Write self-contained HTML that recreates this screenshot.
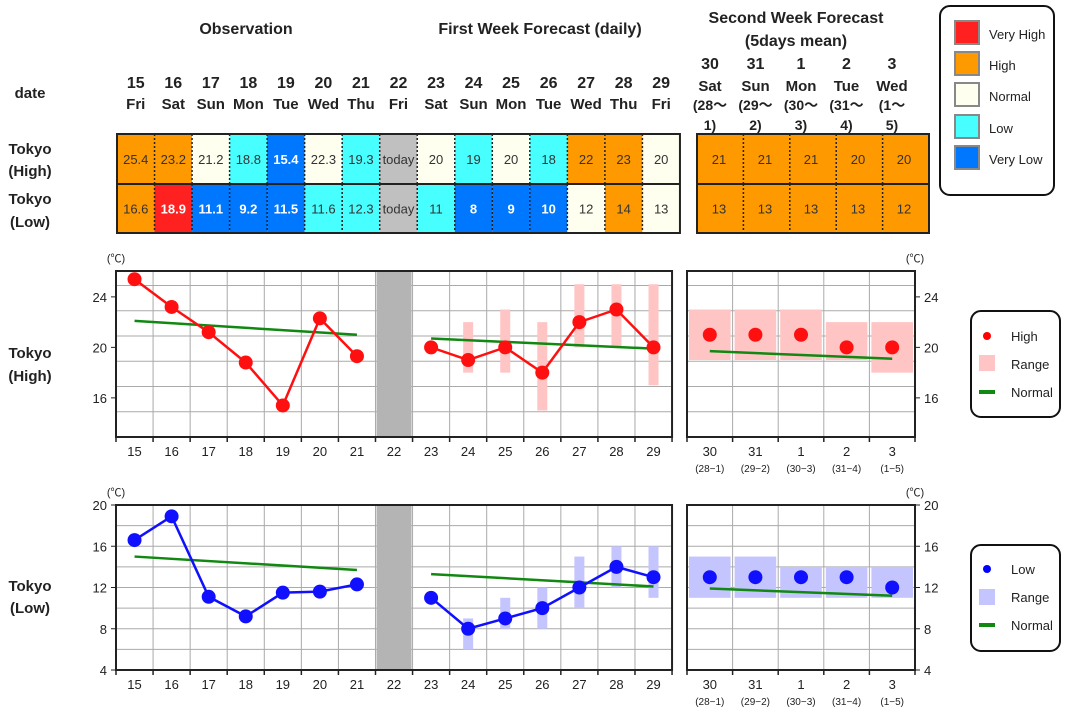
<!DOCTYPE html>
<html><head><meta charset="utf-8"><style>
html,body{margin:0;padding:0;background:#fff;}
svg{display:block;font-family:"Liberation Sans","Noto Sans CJK JP",sans-serif;}
</style></head><body>
<svg id="s" width="1071" height="711" viewBox="0 0 1071 711" xmlns="http://www.w3.org/2000/svg">
<g font-weight="bold" fill="#222" text-anchor="middle">
<text x="246" y="34" font-size="16">Observation</text>
<text x="540" y="34" font-size="16">First Week Forecast (daily)</text>
<text x="796" y="23" font-size="16">Second Week Forecast</text>
<text x="796" y="46" font-size="16">(5days mean)</text>
<text x="30" y="98" font-size="15">date</text>
<text x="30" y="154" font-size="15">Tokyo</text><text x="30" y="176" font-size="15">(High)</text>
<text x="30" y="204" font-size="15">Tokyo</text><text x="30" y="227" font-size="15">(Low)</text>
<text x="30" y="358" font-size="15">Tokyo</text><text x="30" y="381" font-size="15">(High)</text>
<text x="30" y="591" font-size="15">Tokyo</text><text x="30" y="613" font-size="15">(Low)</text>
</g>
<g id="hdr" font-weight="bold" fill="#222" text-anchor="middle" font-size="15"></g>
<g id="tbl"></g>
<g id="c1"></g>
<g id="c2"></g>
<rect x="940" y="6" width="114" height="189" rx="10" fill="#fff" stroke="#111" stroke-width="2"/>
<g stroke="#888" stroke-width="2" font-size="13" fill="#222">
<rect x="955" y="21" width="24" height="23" fill="#FF2020"/>
<rect x="955" y="52" width="24" height="23" fill="#FF9900"/>
<rect x="955" y="83" width="24" height="23" fill="#FFFFF0"/>
<rect x="955" y="115" width="24" height="23" fill="#47FFFF"/>
<rect x="955" y="146" width="24" height="23" fill="#0077FF"/>
</g>
<g font-size="13" fill="#222">
<text x="989" y="39">Very High</text><text x="989" y="70">High</text><text x="989" y="101">Normal</text><text x="989" y="133">Low</text><text x="989" y="164">Very Low</text>
</g>
<rect x="971" y="311" width="89" height="106" rx="10" fill="#fff" stroke="#111" stroke-width="2"/>
<circle cx="987" cy="336" r="4" fill="#f00"/><rect x="979" y="355" width="16" height="16" fill="#FFC4C4"/><rect x="979" y="390" width="16" height="4" fill="#118811"/>
<g font-size="13" fill="#222"><text x="1011" y="341">High</text><text x="1011" y="369">Range</text><text x="1011" y="397">Normal</text></g>
<rect x="971" y="545" width="89" height="106" rx="10" fill="#fff" stroke="#111" stroke-width="2"/>
<circle cx="987" cy="569" r="4" fill="#00f"/><rect x="979" y="589" width="16" height="16" fill="#C4C4FF"/><rect x="979" y="623" width="16" height="4" fill="#118811"/>
<g font-size="13" fill="#222"><text x="1011" y="574">Low</text><text x="1011" y="602">Range</text><text x="1011" y="630">Normal</text></g>
</svg>
<script>
const NS="http://www.w3.org/2000/svg";
function el(p,t,a,txt){const e=document.createElementNS(NS,t);for(const k in a)e.setAttribute(k,a[k]);if(txt!=null)e.textContent=txt;document.getElementById(p).appendChild(e);return e;}
const days=[15,16,17,18,19,20,21,22,23,24,25,26,27,28,29];
const dn=["Fri","Sat","Sun","Mon","Tue","Wed","Thu","Fri","Sat","Sun","Mon","Tue","Wed","Thu","Fri"];
const TW=37.53,TL=117;
days.forEach((d,i)=>{const x=TL+TW*(i+.5);el("hdr","text",{x:x,y:88,"font-size":16},d);el("hdr","text",{x:x,y:109},dn[i]);});
const w2=[30,31,1,2,3],w2n=["Sat","Sun","Mon","Tue","Wed"],w2a=["(28〜","(29〜","(30〜","(31〜","(1〜"],w2b=["1)","2)","3)","4)","5)"];
w2.forEach((d,i)=>{const x=710+45.5*i;el("hdr","text",{x:x,y:69,"font-size":16},d);el("hdr","text",{x:x,y:91},w2n[i]);el("hdr","text",{x:x,y:110,"font-size":14},w2a[i]);el("hdr","text",{x:x,y:130,"font-size":14},w2b[i]);});
const C={O:"#FF9900",R:"#FF2020",N:"#FFFFF0",C:"#47FFFF",B:"#0077FF",G:"#C0C0C0"};
const r1=[["25.4","O"],["23.2","O"],["21.2","N"],["18.8","C"],["15.4","B"],["22.3","N"],["19.3","C"],["today","G"],["20","N"],["19","C"],["20","N"],["18","C"],["22","O"],["23","O"],["20","N"]];
const r2=[["16.6","O"],["18.9","R"],["11.1","B"],["9.2","B"],["11.5","B"],["11.6","C"],["12.3","C"],["today","G"],["11","C"],["8","B"],["9","B"],["10","B"],["12","N"],["14","O"],["13","N"]];
function row(arr,y,h,L,W,tx){arr.forEach((c,i)=>{const x=L+W*i;el("tbl","rect",{x:x,y:y,width:W,height:h,fill:C[c[1]]});const bold=(c[1]=="B"||c[1]=="R");el("tbl","text",{x:(tx?tx[i]:x+W/2),y:y+h/2+5,"text-anchor":"middle","font-size":13,fill:bold?"#fff":"#333","font-weight":bold?"bold":"normal"},c[0]);});
for(let i=1;i<arr.length;i++){const x=L+W*i;el("tbl","line",{x1:x,x2:x,y1:y,y2:y+h,stroke:"#222","stroke-width":1.5,"stroke-dasharray":"2,2"});}}
row(r1,134,50,TL,TW);row(r2,184,49,TL,TW);
el("tbl","rect",{x:TL,y:134,width:TW*15,height:99,fill:"none",stroke:"#222","stroke-width":2});
el("tbl","line",{x1:TL,x2:TL+TW*15,y1:184,y2:184,stroke:"#222","stroke-width":2});
const tx=[719,765,811,858,904];
row([["21","O"],["21","O"],["21","O"],["20","O"],["20","O"]],134,50,697,46.4,tx);
row([["13","O"],["13","O"],["13","O"],["13","O"],["12","O"]],184,49,697,46.4,tx);
el("tbl","rect",{x:697,y:134,width:232,height:99,fill:"none",stroke:"#222","stroke-width":2});
el("tbl","line",{x1:697,x2:929,y1:184,y2:184,stroke:"#222","stroke-width":2});
const L=116,W=37.07,RL=687,RW=45.6;
function chart(g,top,bot,vmin,vmax,ticks,col,rc,obs,obsN,fc,fr,fN,w,wr,wN){
 const Y=v=>bot-(v-vmin)*(bot-top)/(vmax-vmin);
 const R=L+W*15,RR=RL+RW*5;
 for(let v=vmin+2;v<vmax;v+=2){el(g,"line",{x1:L,x2:R,y1:Y(v),y2:Y(v),stroke:"#aaa","stroke-width":1});el(g,"line",{x1:RL,x2:RR,y1:Y(v),y2:Y(v),stroke:"#aaa","stroke-width":1});}
 for(let i=1;i<15;i++){el(g,"line",{x1:L+W*i,x2:L+W*i,y1:top,y2:bot,stroke:"#aaa"});}
 for(let i=1;i<5;i++){el(g,"line",{x1:RL+RW*i,x2:RL+RW*i,y1:top,y2:bot,stroke:"#aaa"});}
 el(g,"rect",{x:L+W*7+1,y:top,width:W-2,height:bot-top,fill:"#B4B4B4"});
 fr.forEach((r,i)=>{if(r){const x=L+W*(i+8.5);el(g,"rect",{x:x-5,y:Y(r[1]),width:10,height:Y(r[0])-Y(r[1]),fill:rc});}});
 wr.forEach((r,i)=>{const x=RL+RW*i+2;el(g,"rect",{x:x,y:Y(r[1]),width:RW-4,height:Y(r[0])-Y(r[1]),fill:rc});});
 el(g,"line",{x1:L+W*.5,x2:L+W*6.5,y1:Y(obsN[0]),y2:Y(obsN[1]),stroke:"#118811","stroke-width":2.5});
 el(g,"line",{x1:L+W*8.5,x2:L+W*14.5,y1:Y(fN[0]),y2:Y(fN[1]),stroke:"#118811","stroke-width":2.5});
 el(g,"line",{x1:RL+RW*.5,x2:RL+RW*4.5,y1:Y(wN[0]),y2:Y(wN[1]),stroke:"#118811","stroke-width":2.5});
 const p1=obs.map((v,i)=>(L+W*(i+.5))+","+Y(v)).join(" ");
 el(g,"polyline",{points:p1,fill:"none",stroke:col,"stroke-width":2.5});
 obs.forEach((v,i)=>el(g,"circle",{cx:L+W*(i+.5),cy:Y(v),r:7,fill:col}));
 const p2=fc.map((v,i)=>(L+W*(i+8.5))+","+Y(v)).join(" ");
 el(g,"polyline",{points:p2,fill:"none",stroke:col,"stroke-width":2.5});
 fc.forEach((v,i)=>el(g,"circle",{cx:L+W*(i+8.5),cy:Y(v),r:7,fill:col}));
 w.forEach((v,i)=>el(g,"circle",{cx:RL+RW*(i+.5),cy:Y(v),r:7,fill:col}));
 el(g,"rect",{x:L,y:top,width:R-L,height:bot-top,fill:"none",stroke:"#222","stroke-width":2});
 el(g,"rect",{x:RL,y:top,width:RR-RL,height:bot-top,fill:"none",stroke:"#222","stroke-width":2});
 for(let i=0;i<=15;i++)el(g,"line",{x1:L+W*i,x2:L+W*i,y1:bot,y2:bot+5,stroke:"#222","stroke-width":1.5});
 for(let i=0;i<=5;i++)el(g,"line",{x1:RL+RW*i,x2:RL+RW*i,y1:bot,y2:bot+5,stroke:"#222","stroke-width":1.5});
 ticks.forEach(v=>{el(g,"line",{x1:L-5,x2:L,y1:Y(v),y2:Y(v),stroke:"#222"});el(g,"line",{x1:RR,x2:RR+5,y1:Y(v),y2:Y(v),stroke:"#222"});
  el(g,"text",{x:L-9,y:Y(v)+5,"text-anchor":"end","font-size":13,fill:"#222"},v);el(g,"text",{x:RR+9,y:Y(v)+5,"font-size":13,fill:"#222"},v);});
 el(g,"text",{x:L,y:top-9,"text-anchor":"middle","font-size":11,fill:"#222"},"(℃)");
 el(g,"text",{x:RR,y:top-9,"text-anchor":"middle","font-size":11,fill:"#222"},"(℃)");
 days.forEach((d,i)=>el(g,"text",{x:L+W*(i+.5),y:bot+19,"text-anchor":"middle","font-size":13,fill:"#222"},d));
 const sub=["(28−1)","(29−2)","(30−3)","(31−4)","(1−5)"];
 w2.forEach((d,i)=>{el(g,"text",{x:RL+RW*(i+.5),y:bot+19,"text-anchor":"middle","font-size":13,fill:"#222"},d);el(g,"text",{x:RL+RW*(i+.5),y:bot+35,"text-anchor":"middle","font-size":10,fill:"#222"},sub[i]);});
}
chart("c1",271,437,12.9,26.05,[16,20,24],"#FF1010","#FFC4C4",
 [25.4,23.2,21.2,18.8,15.4,22.3,19.3],[22.1,21.0],
 [20,19,20,18,22,23,20],[null,[18,22],[18,23],[15,22],[20,25],[20,25],[17,25]],[20.7,19.9],
 [21,21,21,20,20],[[19,23],[19,23],[19,23],[19,22],[18,22]],[19.7,19.1]);
chart("c2",505,670,4,20,[4,8,12,16,20],"#1010FF","#C4C4FF",
 [16.6,18.9,11.1,9.2,11.5,11.6,12.3],[15.0,13.7],
 [11,8,9,10,12,14,13],[null,[6,9],[8,11],[8,12],[10,15],[12,16],[11,16]],[13.3,12.1],
 [13,13,13,13,12],[[11,15],[11,15],[11,14],[11,14],[11,14]],[11.9,11.2]);
</script>
</body></html>
